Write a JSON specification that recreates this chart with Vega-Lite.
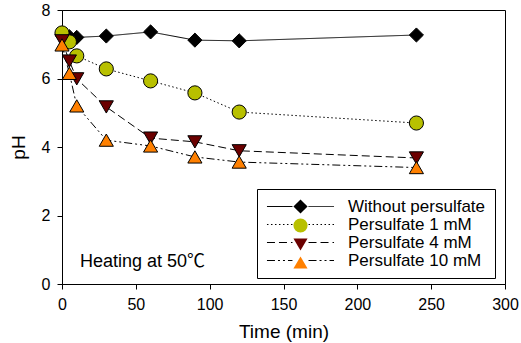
{
  "$schema": "https://vega.github.io/schema/vega-lite/v6.json",
  "width": 443,
  "height": 274,
  "autosize": "none",
  "padding": {"left": 62, "top": 10, "right": 16, "bottom": 59},
  "background": "white",
  "config": {
    "view": {"stroke": "black", "strokeWidth": 1},
    "font": "Liberation Sans",
    "axis": {
      "grid": false,
      "domainColor": "black",
      "tickColor": "black",
      "labelColor": "black",
      "titleColor": "black",
      "labelFont": "Liberation Sans",
      "titleFont": "Liberation Sans",
      "labelFontSize": 16,
      "titleFontSize": 19,
      "titleFontWeight": "normal",
      "tickSize": 5,
      "labelPadding": 7,
      "labelFlush": false
    },
    "legend": {
      "labelFont": "Liberation Sans",
      "labelFontSize": 17,
      "labelColor": "black"
    }
  },
  "datasets": {
    "ph": [
      {"series": "Without persulfate", "time": 0, "pH": 7.28},
      {"series": "Without persulfate", "time": 5, "pH": 7.22},
      {"series": "Without persulfate", "time": 10, "pH": 7.2},
      {"series": "Without persulfate", "time": 30, "pH": 7.24},
      {"series": "Without persulfate", "time": 60, "pH": 7.36},
      {"series": "Without persulfate", "time": 90, "pH": 7.12},
      {"series": "Without persulfate", "time": 120, "pH": 7.1},
      {"series": "Without persulfate", "time": 240, "pH": 7.27},
      {"series": "Persulfate 1 mM", "time": 0, "pH": 7.33},
      {"series": "Persulfate 1 mM", "time": 5, "pH": 7.07},
      {"series": "Persulfate 1 mM", "time": 10, "pH": 6.66},
      {"series": "Persulfate 1 mM", "time": 30, "pH": 6.28},
      {"series": "Persulfate 1 mM", "time": 60, "pH": 5.93},
      {"series": "Persulfate 1 mM", "time": 90, "pH": 5.58},
      {"series": "Persulfate 1 mM", "time": 120, "pH": 5.02},
      {"series": "Persulfate 1 mM", "time": 240, "pH": 4.7},
      {"series": "Persulfate 4 mM", "time": 0, "pH": 7.1},
      {"series": "Persulfate 4 mM", "time": 5, "pH": 6.51},
      {"series": "Persulfate 4 mM", "time": 10, "pH": 5.99},
      {"series": "Persulfate 4 mM", "time": 30, "pH": 5.17},
      {"series": "Persulfate 4 mM", "time": 60, "pH": 4.26},
      {"series": "Persulfate 4 mM", "time": 90, "pH": 4.15},
      {"series": "Persulfate 4 mM", "time": 120, "pH": 3.89},
      {"series": "Persulfate 4 mM", "time": 240, "pH": 3.68},
      {"series": "Persulfate 10 mM", "time": 0, "pH": 6.98},
      {"series": "Persulfate 10 mM", "time": 5, "pH": 6.15},
      {"series": "Persulfate 10 mM", "time": 10, "pH": 5.2},
      {"series": "Persulfate 10 mM", "time": 30, "pH": 4.2},
      {"series": "Persulfate 10 mM", "time": 60, "pH": 4.03},
      {"series": "Persulfate 10 mM", "time": 90, "pH": 3.71},
      {"series": "Persulfate 10 mM", "time": 120, "pH": 3.56},
      {"series": "Persulfate 10 mM", "time": 240, "pH": 3.4}
    ]
  },
  "layer": [
    {
      "data": {"name": "ph"},
      "mark": {"type": "line", "color": "black", "strokeWidth": 1},
      "encoding": {
        "x": {"field": "time", "type": "quantitative", "scale": {"domain": [0, 300], "nice": false},
              "axis": {"values": [0, 50, 100, 150, 200, 250, 300], "title": "Time (min)", "titlePadding": 10}},
        "y": {"field": "pH", "type": "quantitative", "scale": {"domain": [0, 8], "nice": false},
              "axis": {"values": [0, 2, 4, 6, 8], "title": "pH", "titlePadding": 13}},
        "detail": {"field": "series"},
        "strokeDash": {
          "field": "series", "type": "nominal",
          "sort": ["Without persulfate", "Persulfate 1 mM", "Persulfate 4 mM", "Persulfate 10 mM"],
          "scale": {"range": [[1, 0], [1.5, 2.5], [8, 4], [8, 3, 2, 3, 2, 3]]},
          "legend": {
            "title": null, "orient": "none", "legendX": 195, "legendY": 179,
            "padding": 9, "strokeColor": "black",
            "symbolType": "M-4.47,0H-1.07M1.07,0H4.47",
            "symbolSize": 225, "symbolStrokeWidth": 1, "symbolStrokeColor": "black",
            "symbolOffset": 26, "labelOffset": 39, "rowPadding": 0
          }
        }
      }
    },
    {
      "data": {"name": "ph"},
      "mark": {"type": "point", "filled": true, "stroke": "black", "strokeWidth": 1, "size": 200, "opacity": 1},
      "encoding": {
        "x": {"field": "time", "type": "quantitative"},
        "y": {"field": "pH", "type": "quantitative"},
        "shape": {
          "field": "series", "type": "nominal",
          "scale": {"domain": ["Without persulfate", "Persulfate 1 mM", "Persulfate 4 mM", "Persulfate 10 mM"],
                    "range": ["diamond", "circle", "triangle-down", "triangle-up"]},
          "legend": {
            "title": null, "orient": "none", "legendX": 195, "legendY": 179,
            "padding": 9, "symbolOffset": 26, "labelOffset": 39, "rowPadding": 0,
            "labelExpr": "''", "symbolStrokeColor": "black", "symbolStrokeWidth": 1, "symbolSize": 200, "symbolOpacity": 1
          }
        },
        "fill": {
          "field": "series", "type": "nominal",
          "scale": {"domain": ["Without persulfate", "Persulfate 1 mM", "Persulfate 4 mM", "Persulfate 10 mM"],
                    "range": ["#000000", "#b8c000", "#6b0000", "#ff8000"]},
          "legend": {
            "title": null, "orient": "none", "legendX": 195, "legendY": 179,
            "padding": 9, "symbolOffset": 26, "labelOffset": 39, "rowPadding": 0,
            "labelExpr": "''", "symbolStrokeColor": "black", "symbolStrokeWidth": 1, "symbolSize": 200, "symbolOpacity": 1
          }
        }
      }
    },
    {
      "data": {"values": [{"label": "Heating at 50℃"}]},
      "mark": {"type": "text", "align": "left", "baseline": "alphabetic", "fontSize": 18, "font": "Liberation Sans, Noto Sans CJK KR", "color": "black"},
      "encoding": {
        "x": {"datum": 12.2, "type": "quantitative"},
        "y": {"datum": 0.5, "type": "quantitative"},
        "text": {"field": "label"}
      }
    }
  ]
}
